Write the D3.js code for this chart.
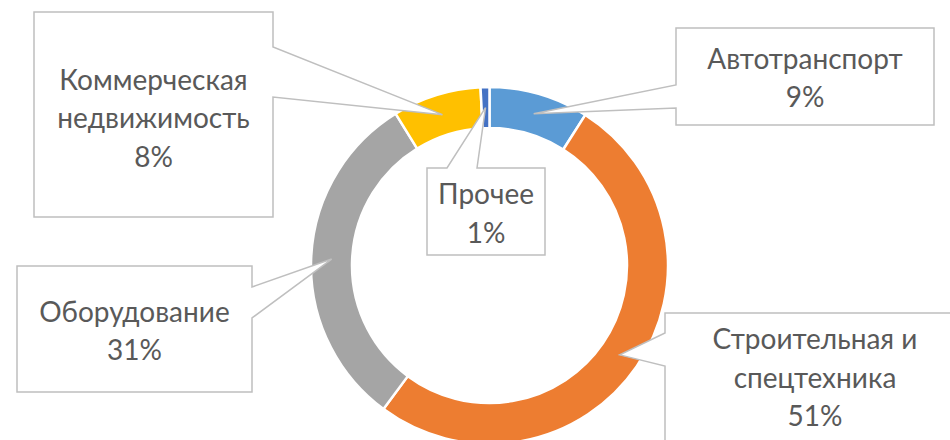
<!DOCTYPE html>
<html>
<head>
<meta charset="utf-8">
<script src="https://cdn.jsdelivr.net/npm/d3@7"></script>
<style>
  body { margin: 0; background: #fff; }
  svg text { font-family: Lato, "Noto Sans", sans-serif; fill: #595959; }
</style>
</head>
<body>
<svg id="chart" width="950" height="440"></svg>
<script>
// data
var categories = ["Автотранспорт", "Строительная и спецтехника", "Оборудование", "Коммерческая недвижимость", "Прочее"];
var values = [9, 51, 31, 8, 0.8];
var colors = ["#5B9BD5", "#ED7D31", "#A5A5A5", "#FFC000", "#4472C4"];
// label text lines (category split like in the picture)
var labelLines = [
    ["Автотранспорт"],
    ["Строительная и", "спецтехника"],
    ["Оборудование"],
    ["Коммерческая", "недвижимость"],
    ["Прочее"]
];

var width = 950,
    height = 440;
var cx = 489.5, cy = 265.5;
var outerR = 178.5, innerR = 137.5;
var fontSize = 28, lineH = 38.5;

// callout boxes: x, y, w, h, side of the pointer, where the pointer meets the box, text middle
var boxes = [
    {x: 676, y: 28, w: 258, h: 97, side: "left", a: 85, b: 108, ty: 78},
    {x: 665, y: 313, w: 300, h: 140, side: "left", a: 333, b: 366, ty: 378},
    {x: 17, y: 266, w: 235, h: 126, side: "right", a: 287, b: 318, ty: 331},
    {x: 34, y: 12, w: 239, h: 205, side: "right", a: 47, b: 97, ty: 118.5},
    {x: 427, y: 168, w: 118, h: 87, side: "top", a: 447, b: 477, ty: 213.5}
];

var svg = d3.select("#chart");

var total = d3.sum(values);
var pie = d3.pie().sort(null).value(function(d) { return d; });
var arcs = pie(values);

var arc = d3.arc().innerRadius(innerR).outerRadius(outerR);

var g = svg.append("g").attr("transform", "translate(" + cx + "," + cy + ")");

g.selectAll("path.slice").data(arcs).enter().append("path")
    .attr("class", "slice")
    .attr("d", arc)
    .attr("fill", function(d, i) { return colors[i]; })
    .attr("stroke", "#fff")
    .attr("stroke-width", 2.5);

// callouts
arcs.forEach(function(d, i) {
    var b = boxes[i];
    var c = arc.centroid(d);
    var px = cx + c[0], py = cy + c[1];
    var x0 = b.x, y0 = b.y, x1 = b.x + b.w, y1 = b.y + b.h;
    var pts;
    if (b.side === "left") {
        pts = [[x0, y0], [x1, y0], [x1, y1], [x0, y1], [x0, b.b], [px, py], [x0, b.a]];
    } else if (b.side === "right") {
        pts = [[x0, y0], [x1, y0], [x1, b.a], [px, py], [x1, b.b], [x1, y1], [x0, y1]];
    } else {
        pts = [[x0, y0], [b.a, y0], [px, py], [b.b, y0], [x1, y0], [x1, y1], [x0, y1]];
    }
    svg.append("path")
        .attr("d", d3.line()(pts) + "Z")
        .attr("fill", "#fff")
        .attr("stroke", "#BFBFBF")
        .attr("stroke-width", 1.5);

    var lines = labelLines[i].concat([Math.round(values[i] / total * 100) + "%"]);
    var tcx = x0 + b.w / 2;
    var t = svg.append("text")
        .attr("text-anchor", "middle")
        .attr("font-size", fontSize);
    lines.forEach(function(s, k) {
        t.append("tspan")
            .attr("x", tcx)
            .attr("y", b.ty + (k - (lines.length - 1) / 2) * lineH)
            .attr("dy", "0.35em")
            .text(s);
    });
});
</script>
</body>
</html>
